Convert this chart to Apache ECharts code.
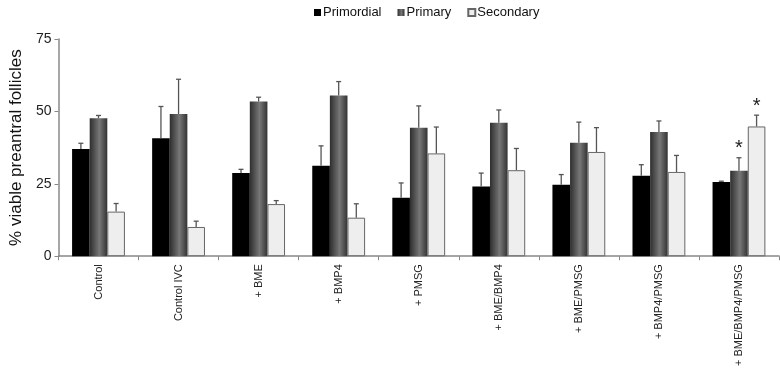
<!DOCTYPE html>
<html><head><meta charset="utf-8">
<script src="https://cdn.jsdelivr.net/npm/echarts@6/dist/echarts.min.js"></script>
<style>html,body{margin:0;padding:0;background:#fff}#c{width:780px;height:369px}</style>
</head><body><div id="c"></div>
<script>
var categories = ['Control','Control IVC','+ BME','+ BMP4','+ PMSG','+ BME/BMP4','+ BME/PMSG','+ BMP4/PMSG','+ BME/BMP4/PMSG'];
var seriesNames = ['Primordial','Primary','Secondary'];
var primordial = [37.0, 40.7, 28.7, 31.2, 20.2, 24.1, 24.7, 27.8, 25.6];
var primordialErrTop = [39.0, 51.7, 30.0, 38.1, 25.3, 28.7, 28.2, 31.6, 25.9];
var primary = [47.6, 49.1, 53.4, 55.5, 44.4, 46.1, 39.2, 42.9, 29.5];
var primaryErrTop = [48.6, 61.1, 54.9, 60.3, 51.9, 50.5, 46.3, 46.7, 34.0];
var secondary = [15.4, 10.1, 18.0, 13.3, 35.5, 29.7, 36.0, 29.1, 44.8];
var secondaryErrTop = [18.2, 12.1, 19.2, 18.1, 44.6, 37.2, 44.4, 34.8, 48.7];
var primarySignificant = [0,0,0,0,0,0,0,0,1];
var secondarySignificant = [0,0,0,0,0,0,0,0,1];
var yTicks = [0, 25, 50, 75];

var FONT = '"Liberation Sans", Arial, sans-serif';
var BARW = 0.22;

function errSeries(vals, tops, sig, slot) {
  return {
    type: 'custom',
    z: 5,
    silent: true,
    data: vals.map(function (v, i) { return [i, v, tops[i], sig[i]]; }),
    encode: { x: 0, y: 1 },
    renderItem: function (params, api) {
      var band = api.size([1, 0])[0];
      var off = slot * band * BARW;
      var p0 = api.coord([api.value(0), api.value(1)]);
      var p1 = api.coord([api.value(0), api.value(2)]);
      var x = p0[0] + off;
      var style = { stroke: '#555', lineWidth: 1.3 };
      var children = [
        { type: 'line', shape: { x1: x, y1: p0[1], x2: x, y2: p1[1] }, style: style },
        { type: 'line', shape: { x1: x - 2.5, y1: p1[1], x2: x + 2.5, y2: p1[1] }, style: style }
      ];
      if (api.value(3)) {
        children.push({ type: 'text', style: { text: '*', x: x, y: p1[1] + 1, align: 'center', verticalAlign: 'bottom', fontSize: 20, fontFamily: FONT, fill: '#222' } });
      }
      return { type: 'group', children: children };
    }
  };
}

var chart = echarts.init(document.getElementById('c'), null, { renderer: 'canvas' });
chart.setOption({
  animation: false,
  backgroundColor: '#fff',
  legend: {
    top: 1, left: 309,
    itemWidth: 7, itemHeight: 7, itemGap: 16,
    icon: 'rect',
    textStyle: { fontFamily: FONT, fontSize: 13, color: '#111', padding: [0,0,0,-3] },
    data: seriesNames
  },
  grid: { left: 53, right: 1, top: 39, bottom: 112 },
  xAxis: {
    type: 'category',
    data: categories,
    axisLine: { lineStyle: { color: '#888', width: 1.5 } },
    axisTick: { show: true, length: 4, inside: false, lineStyle: { color: '#888' } },
    axisLabel: { rotate: 90, fontFamily: FONT, fontSize: 11, color: '#222', margin: 8, interval: 0 }
  },
  yAxis: {
    type: 'value', min: 0, max: 75, interval: 25,
    name: '% viable preantral follicles',
    nameLocation: 'middle', nameGap: 33, nameRotate: 90,
    nameTextStyle: { fontFamily: FONT, fontSize: 17, color: '#111' },
    splitLine: { show: false },
    axisLine: { show: true, lineStyle: { color: '#888', width: 1.5 } },
    axisTick: { show: true, length: 4, lineStyle: { color: '#888' } },
    axisLabel: { fontFamily: FONT, fontSize: 14, color: '#222', margin: 7,
      formatter: function (v) { return yTicks.indexOf(v) >= 0 ? String(v) : ''; } }
  },
  series: [
    { name: seriesNames[0], type: 'bar', data: primordial, barWidth: (BARW*100)+'%', barGap: '0%',
      itemStyle: { color: '#000' } },
    { name: seriesNames[1], type: 'bar', data: primary, barWidth: (BARW*100)+'%', barGap: '0%',
      itemStyle: { color: new echarts.graphic.LinearGradient(0, 0, 1, 0, [
        { offset: 0, color: '#2e2e2e' }, { offset: 0.55, color: '#777' }, { offset: 1, color: '#333' }]) } },
    { name: seriesNames[2], type: 'bar', data: secondary, barWidth: (BARW*100)+'%', barGap: '0%',
      itemStyle: { color: '#eeeeee', borderColor: '#666', borderWidth: 1 } },
    errSeries(primordial, primordialErrTop, [0,0,0,0,0,0,0,0,0], -1),
    errSeries(primary, primaryErrTop, primarySignificant, 0),
    errSeries(secondary, secondaryErrTop, secondarySignificant, 1)
  ]
});
</script></body></html>
